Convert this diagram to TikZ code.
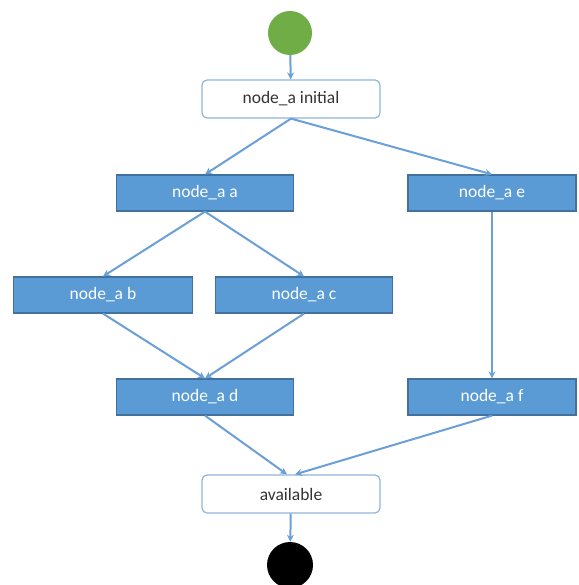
\documentclass[tikz,border=0pt]{standalone}
\usepackage{fontspec}
\setmainfont{Carlito}
\usetikzlibrary{arrows.meta,calc}
\definecolor{boxblue}{HTML}{5B9BD5}
\definecolor{boxedge}{HTML}{41719C}
\definecolor{lineblue}{HTML}{6A9FD8}
\definecolor{statedge}{HTML}{8FB4DD}
\definecolor{startgreen}{HTML}{70AD47}
\tikzset{
  bluebox/.style={draw=boxedge, line width=1.2pt, fill=boxblue, text=white, minimum width=177pt, minimum height=36pt, inner sep=0pt, font=\fontsize{17.5}{20}\selectfont},
  statebox/.style={draw=statedge, line width=1.2pt, fill=white, text=black!80, rounded corners=5pt, minimum width=178pt, minimum height=38pt, inner sep=0pt, font=\fontsize{17.5}{20}\selectfont},
  flow/.style={draw=lineblue, line width=2pt, -{Stealth[length=7pt,width=7pt]}},
}
\begin{document}
\begin{tikzpicture}[x=1pt,y=-1pt]
\useasboundingbox (0,0) rectangle (578,585);
\node[circle, fill=startgreen, minimum size=44pt, inner sep=0pt] (start) at (290,33) {};
\node[statebox] (init) at (291,99) {node\_a initial};
\node[bluebox] (na) at (205,193) {node\_a a};
\node[bluebox, minimum width=168pt] (ne) at (492,193) {node\_a e};
\node[bluebox, minimum width=179pt] (nb) at (103,295) {node\_a b};
\node[bluebox] (nc) at (304,295) {node\_a c};
\node[bluebox] (nd) at (205,397) {node\_a d};
\node[bluebox, minimum width=168pt] (nf) at (492,397) {node\_a f};
\node[statebox] (avail) at (291,494) {available};
\node[circle, fill=black, minimum size=46pt, inner sep=0pt] (stop) at (290,565) {};
\draw[flow] (start) -- (init);
\draw[flow] (init.south) -- (na.north);
\draw[flow] (init.south) -- (ne.north);
\draw[flow] (na.south) -- (nb.north);
\draw[flow] (na.south) -- (nc.north);
\draw[flow] (nb.south) -- (nd.north);
\draw[flow] (nc.south) -- (nd.north);
\draw[flow] (ne.south) -- (nf.north);
\draw[flow] (nd.south) -- ([xshift=-4pt]avail.north);
\draw[flow] (nf.south) -- ([xshift=4pt]avail.north);
\draw[flow] (avail) -- (stop);
\end{tikzpicture}
\end{document}
